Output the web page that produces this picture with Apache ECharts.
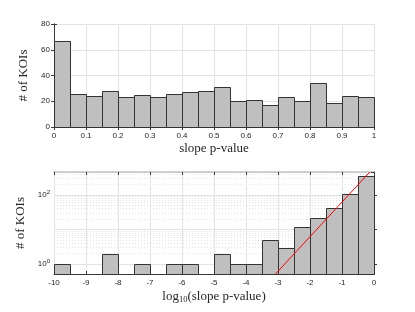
<!DOCTYPE html>
<html><head><meta charset="utf-8">
<script src="https://cdn.jsdelivr.net/npm/echarts@6/dist/echarts.min.js"></script>
<style>html,body{margin:0;padding:0;background:#fff}#c{width:415px;height:312px}</style>
</head><body><div id="c"></div>
<script>
// ---- Top histogram: slope p-value (bin width 0.05) ----
const pEdges = [0,0.05,0.1,0.15,0.2,0.25,0.3,0.35,0.4,0.45,0.5,0.55,0.6,0.65,0.7,0.75,0.8,0.85,0.9,0.95,1];
const pCounts = [67,26,24,28,23,25,23,26,27,28,31,20,21,17,23,20,34,19,24,23];
const pTicks = [0,0.1,0.2,0.3,0.4,0.5,0.6,0.7,0.8,0.9,1];
const countTicks = [0,20,40,60,80];

// ---- Bottom histogram: log10(slope p-value) (bin width 0.5) ----
const logEdges = [-10,-9.5,-9,-8.5,-8,-7.5,-7,-6.5,-6,-5.5,-5,-4.5,-4,-3.5,-3,-2.5,-2,-1.5,-1,-0.5,0];
const logCounts = [1,0,0,2,0,1,0,1,1,0,2,1,1,5,3,12,21,43,107,341];
const logTicks = [-10,-9,-8,-7,-6,-5,-4,-3,-2,-1,0];
const logYRange = [0.52, 460];
const logYLabels = [1, 100];
const minorGrid = [2,3,4,5,6,7,8,9,10,20,30,40,50,60,70,80,90,200,300,400];
// reference red line (expected counts), endpoints [log10 p, count]
const refLine = [[-3.08, 0.52], [-0.13, 460]];

const serif = 'Liberation Serif';
const sans = 'Liberation Sans';
const axisCol = '#3a3a3a';
const gridCol = '#e3e3e3';

function binsData(edges, counts) {
  const out = [];
  counts.forEach((c, i) => { if (c > 0) out.push([edges[i], edges[i+1], c]); });
  return out;
}
function histRender(base) {
  return function (params, api) {
    const p0 = api.coord([api.value(0), base]);
    const p1 = api.coord([api.value(1), api.value(2)]);
    const x0 = Math.round(p0[0]) + 0.5, x1 = Math.round(p1[0]) + 0.5;
    const yb = Math.round(p0[1]) + 0.5, yt = Math.round(p1[1]) + 0.5;
    return {
      type: 'rect',
      shape: { x: x0, y: yt, width: x1 - x0, height: yb - yt },
      style: { fill: '#bfbfbf', stroke: '#333333', lineWidth: 1 }
    };
  };
}
function near(v, list) { return list.some(t => Math.abs(t - v) < 1e-6 * Math.max(1, Math.abs(t))); }

const chart = echarts.init(document.getElementById('c'), null, { renderer: 'canvas' });
const tickLabel = { fontFamily: sans, fontSize: 8, color: '#262626' };
const nameStyle = { fontFamily: serif, fontSize: 13, color: '#262626' };

chart.setOption({
  animation: false,
  grid: [
    { left: 54, right: 41, top: 24, height: 103 },
    { left: 54, right: 41, top: 172, height: 102 }
  ],
  xAxis: [
    { gridIndex: 0, type: 'value', min: pTicks[0], max: pTicks[pTicks.length-1], interval: 0.1,
      name: 'slope p-value', nameLocation: 'middle', nameGap: 15, nameTextStyle: nameStyle,
      axisLine: { show: true, lineStyle: { color: axisCol, width: 1 } },
      axisTick: { inside: true, length: 3, lineStyle: { color: axisCol } },
      axisLabel: Object.assign({ margin: 5, formatter: v => near(v, pTicks) ? String(+v.toFixed(1)) : '' }, tickLabel),
      splitLine: { show: true, lineStyle: { color: gridCol, width: 1 } } },
    { gridIndex: 0, type: 'value', position: 'top', min: 0, max: 1, interval: 0.1,
      axisLine: { show: true, lineStyle: { color: axisCol, width: 1 } },
      axisTick: { inside: true, length: 3, lineStyle: { color: axisCol } },
      axisLabel: { show: false }, splitLine: { show: false } },
    { gridIndex: 1, type: 'value', min: logTicks[0], max: logTicks[logTicks.length-1], interval: 1,
      name: '{a|log}{s|10}{a|(slope p-value)}', nameLocation: 'middle', nameGap: 15,
      nameTextStyle: { rich: {
        a: { fontFamily: serif, fontSize: 13, color: '#262626' },
        s: { fontFamily: serif, fontSize: 8.5, color: '#262626', padding: [6, 0, 0, 0] } } },
      axisLine: { show: true, lineStyle: { color: axisCol, width: 1 } },
      axisTick: { inside: true, length: 3, lineStyle: { color: axisCol } },
      axisLabel: Object.assign({ margin: 5 }, tickLabel),
      splitLine: { show: true, lineStyle: { color: gridCol, width: 1 } } },
    { gridIndex: 1, type: 'value', position: 'top', min: -10, max: 0, interval: 1,
      axisLine: { show: true, lineStyle: { color: '#c4c4c4', width: 1.5 } },
      axisTick: { inside: true, length: 3, lineStyle: { color: axisCol } },
      axisLabel: { show: false }, splitLine: { show: false } }
  ],
  yAxis: [
    { gridIndex: 0, type: 'value', min: countTicks[0], max: countTicks[countTicks.length-1], interval: 20,
      name: '# of KOIs', nameLocation: 'middle', nameGap: 18, nameTextStyle: nameStyle,
      axisLine: { show: true, lineStyle: { color: axisCol, width: 1 } },
      axisTick: { inside: true, length: 3, lineStyle: { color: axisCol } },
      axisLabel: Object.assign({ margin: 4 }, tickLabel),
      splitLine: { show: true, lineStyle: { color: gridCol, width: 1 } } },
    { gridIndex: 0, type: 'value', position: 'right', min: 0, max: 80, interval: 20,
      axisLine: { show: true, lineStyle: { color: axisCol, width: 1 } },
      axisTick: { inside: true, length: 3, lineStyle: { color: axisCol } },
      axisLabel: { show: false }, splitLine: { show: false } },
    { gridIndex: 1, type: 'log', min: logYRange[0], max: logYRange[1],
      name: '# of KOIs', nameLocation: 'middle', nameGap: 18, nameTextStyle: nameStyle,
      axisLine: { show: true, lineStyle: { color: axisCol, width: 1 } },
      axisTick: { inside: true, length: 3, lineStyle: { color: axisCol } },
      axisLabel: { margin: 4, showMinLabel: false, showMaxLabel: false,
        formatter: v => {
          const e = Math.round(Math.log10(v));
          return near(v, logYLabels) ? '{b|10}{e|' + e + '}' : '';
        },
        rich: { b: { fontFamily: sans, fontSize: 8, color: '#262626' },
                e: { fontFamily: sans, fontSize: 6, color: '#262626', padding: [0, 0, 6, 0] } } },
      splitLine: { show: true, lineStyle: { color: gridCol, width: 1 } } },
    { gridIndex: 1, type: 'log', position: 'right', min: logYRange[0], max: logYRange[1],
      axisLine: { show: true, lineStyle: { color: axisCol, width: 1 } },
      axisTick: { inside: true, length: 3, lineStyle: { color: axisCol } },
      axisLabel: { show: false }, splitLine: { show: false } }
  ],
  series: [
    { type: 'line', xAxisIndex: 2, yAxisIndex: 2, data: [], silent: true, z: 0,
      markLine: { silent: true, z: 0, symbol: 'none', animation: false, label: { show: false },
        lineStyle: { color: '#e4e4e4', type: [1, 2], width: 1 },
        data: minorGrid.map(v => ({ yAxis: v })) } },
    { type: 'custom', xAxisIndex: 0, yAxisIndex: 0, z: 3, renderItem: histRender(0),
      encode: { x: [0, 1], y: 2 }, data: binsData(pEdges, pCounts) },
    { type: 'custom', xAxisIndex: 2, yAxisIndex: 2, z: 3, renderItem: histRender(logYRange[0]),
      encode: { x: [0, 1], y: 2 }, data: binsData(logEdges, logCounts) },
    { type: 'line', xAxisIndex: 2, yAxisIndex: 2, z: 5, data: refLine, symbol: 'none',
      lineStyle: { color: '#ff0000', width: 1 }, silent: true }
  ]
});
</script></body></html>
